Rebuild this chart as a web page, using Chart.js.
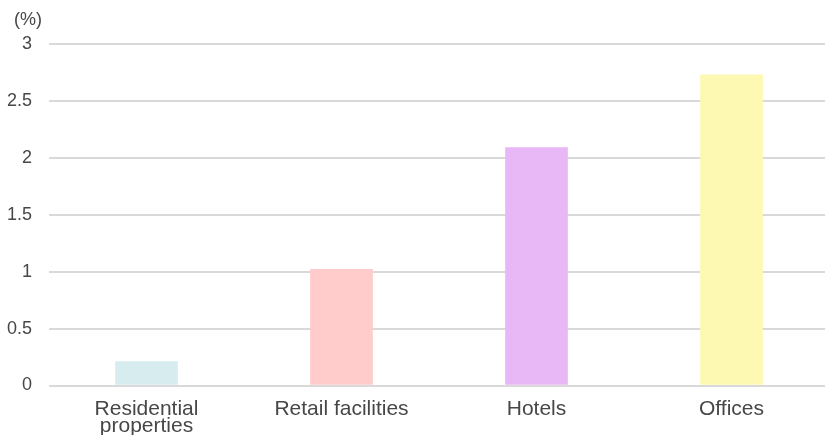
<!DOCTYPE html>
<html>
<head>
<meta charset="utf-8">
<script src="https://cdn.jsdelivr.net/npm/chart.js@4/dist/chart.umd.min.js"></script>
<style>
  html, body { margin: 0; padding: 0; background: #fff; overflow: hidden; }
  #wrap { width: 829px; height: 435px; position: relative; }
</style>
</head>
<body>
<div id="wrap"><canvas id="chart"></canvas></div>
<script>
const categories = [["Residential", "properties"], "Retail facilities", "Hotels", "Offices"];
const values = [0.21, 1.02, 2.09, 2.73];
const barColors = ["#d7ecef", "#ffcbcb", "#e8b7f5", "#fef9b2"];
const unitLabel = "(%)";

const textColor = "#474747";
const fontFamily = "'Liberation Sans', Arial, sans-serif";

// draws the "(%)" unit above the y tick labels
const unitPlugin = {
  id: "unit",
  afterDraw(chart) {
    const { ctx, scales } = chart;
    ctx.save();
    ctx.font = `18px ${fontFamily}`;
    ctx.fillStyle = textColor;
    ctx.textAlign = "center";
    ctx.textBaseline = "middle";
    ctx.fillText(unitLabel, scales.y.left + 28, scales.y.top - 24);
    ctx.restore();
  },
};

new Chart(document.getElementById("chart"), {
  type: "bar",
  data: {
    labels: categories,
    datasets: [{
      data: values,
      backgroundColor: barColors,
      barThickness: 62,
    }],
  },
  options: {
    responsive: true,
    maintainAspectRatio: false,
    animation: false,
    layout: { padding: { top: 44, right: 0, bottom: 0, left: 0 } },
    plugins: {
      legend: { display: false },
      tooltip: { enabled: false },
    },
    scales: {
      x: {
        grid: { display: false },
        border: { display: false },
        ticks: {
          color: textColor,
          font: { family: fontFamily, size: 21, lineHeight: 0.78 },
          padding: 8,
          maxRotation: 0,
          autoSkip: false,
        },
        afterFit(scale) { scale.height = 49.5; },
      },
      y: {
        min: 0,
        max: 3,
        border: { display: false },
        grid: { color: "#d9d9d9", lineWidth: 2, drawTicks: false },
        ticks: {
          stepSize: 0.5,
          color: textColor,
          font: { family: fontFamily, size: 18 },
          padding: 17,
          callback: (value) => String(value),
        },
        afterFit(scale) { scale.width = 49; },
      },
    },
  },
  plugins: [unitPlugin],
});
</script>
</body>
</html>
